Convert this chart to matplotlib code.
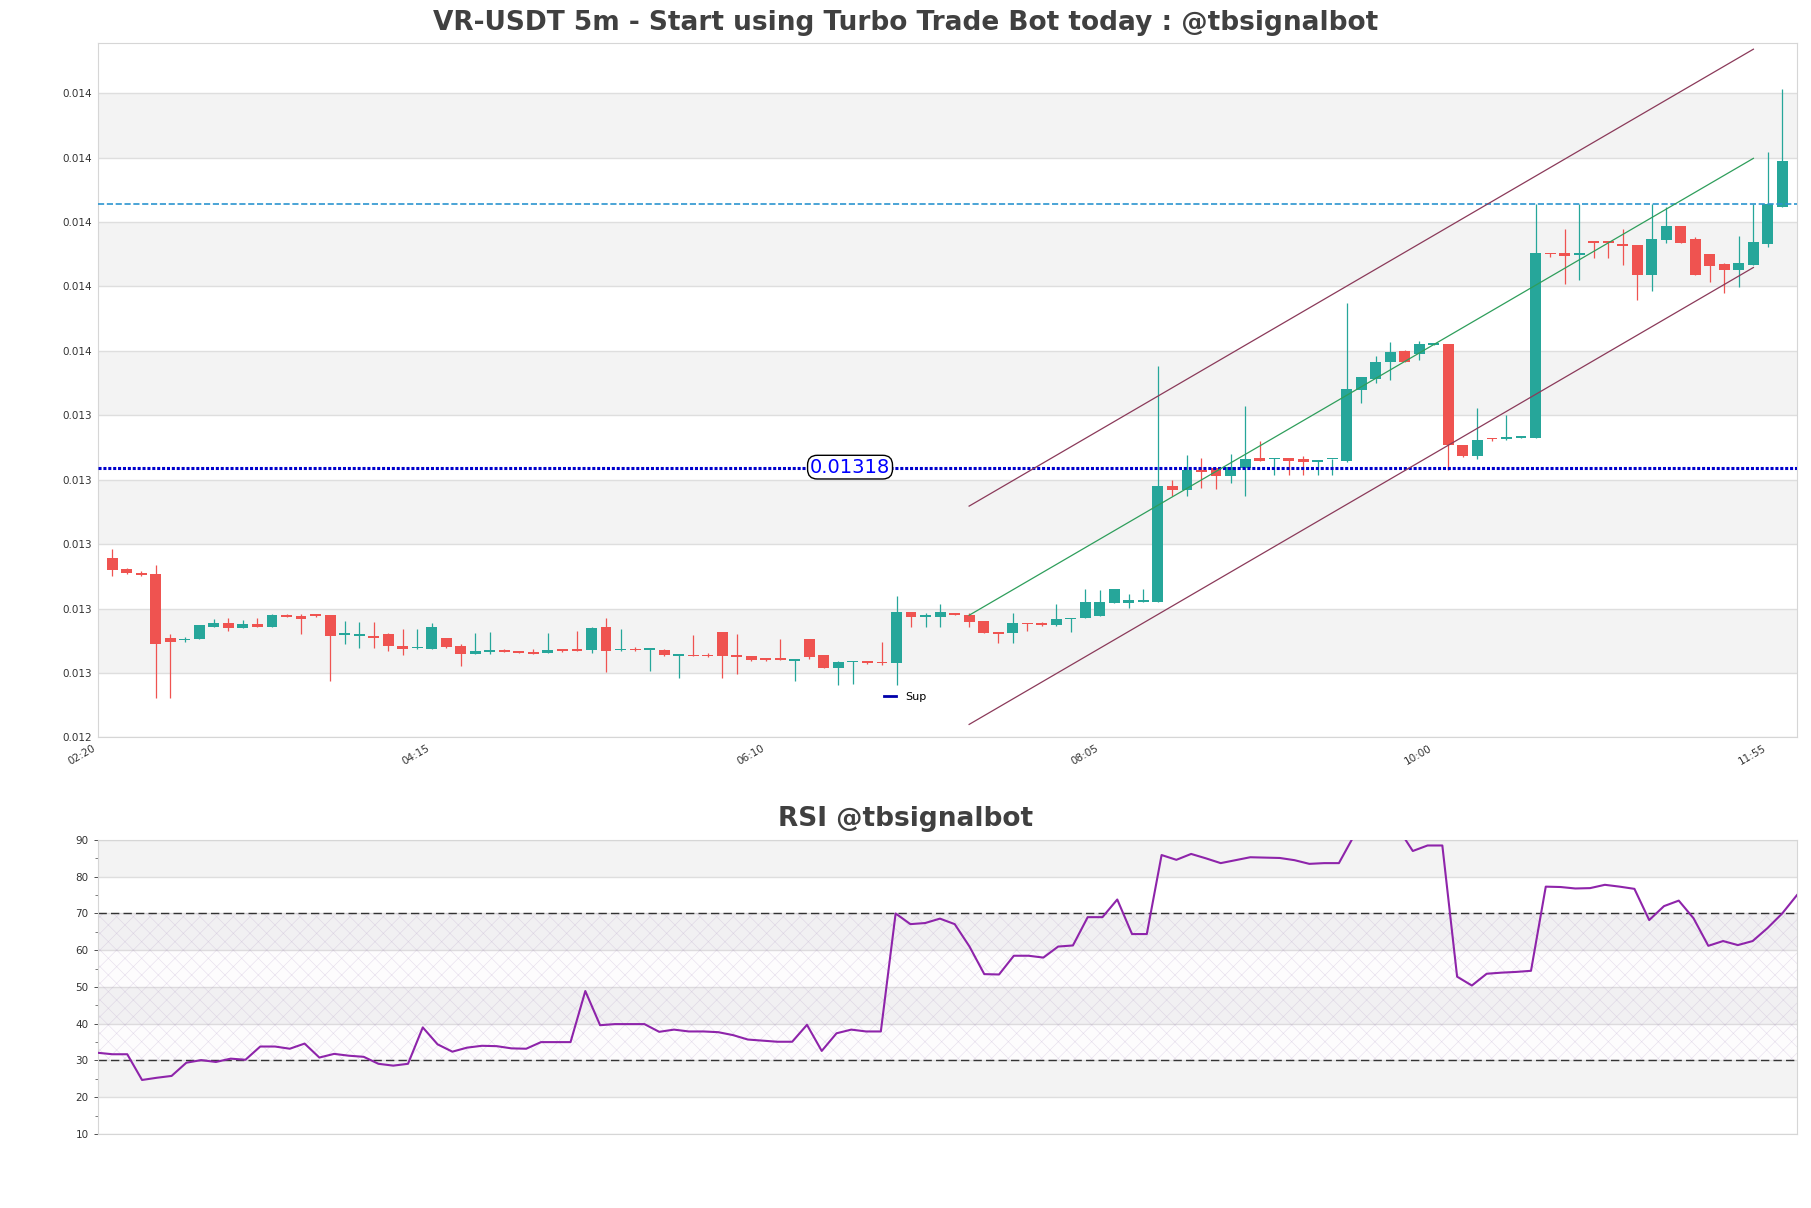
import matplotlib
matplotlib.use('Agg')
import matplotlib.pyplot as plt
from matplotlib.lines import Line2D
from matplotlib.ticker import FixedLocator, MultipleLocator
import numpy as np

# Chart texts
title = 'VR-USDT 5m - Start using Turbo Trade Bot today : @tbsignalbot'
rsi_title = 'RSI @tbsignalbot'

# Time axis: first candle at 02:25, 5 minute candles
first_candle = '02:25'
tick_labels = ['02:20', '04:15', '06:10', '08:05', '10:00', '11:55']

# OHLC data
opens = [
    0.012902, 0.012868, 0.012856, 0.012852, 0.012653, 0.012647, 0.012651, 0.012689, 0.012699, 0.012685,
    0.012696, 0.012689, 0.012725, 0.012722, 0.012727, 0.012725, 0.012662, 0.012659, 0.012660, 0.012666,
    0.012629, 0.012622, 0.012620, 0.012653, 0.012629, 0.012605, 0.012611, 0.012616, 0.012613, 0.012610,
    0.012608, 0.012619, 0.012619, 0.012616, 0.012688, 0.012616, 0.012620, 0.012617, 0.012616, 0.012599,
    0.012601, 0.012601, 0.012672, 0.012600, 0.012596, 0.012591, 0.012589, 0.012583, 0.012650, 0.012601,
    0.012561, 0.012578, 0.012582, 0.012579, 0.012577, 0.012733, 0.012720, 0.012720, 0.012730, 0.012724,
    0.012706, 0.012671, 0.012670, 0.012701, 0.012700, 0.012694, 0.012711, 0.012717, 0.012722, 0.012763,
    0.012763, 0.012766, 0.012766, 0.013124, 0.013113, 0.013176, 0.013180, 0.013157, 0.013182, 0.013211,
    0.013208, 0.013211, 0.013209, 0.013201, 0.013208, 0.013203, 0.013424, 0.013458, 0.013509, 0.013546,
    0.013535, 0.013564, 0.013566, 0.013253, 0.013219, 0.013276, 0.013271, 0.013276, 0.013276, 0.013850,
    0.013850, 0.013842, 0.013885, 0.013885, 0.013877, 0.013873, 0.013781, 0.013889, 0.013933, 0.013891,
    0.013846, 0.013815, 0.013796, 0.013813, 0.013877, 0.013993,
]
highs = [
    0.012930, 0.012871, 0.012860, 0.012880, 0.012666, 0.012655, 0.012694, 0.012712, 0.012716, 0.012709,
    0.012716, 0.012727, 0.012728, 0.012727, 0.012729, 0.012725, 0.012706, 0.012703, 0.012703, 0.012669,
    0.012681, 0.012681, 0.012699, 0.012653, 0.012636, 0.012669, 0.012672, 0.012618, 0.012614, 0.012619,
    0.012669, 0.012620, 0.012675, 0.012689, 0.012714, 0.012681, 0.012624, 0.012619, 0.012618, 0.012604,
    0.012664, 0.012606, 0.012672, 0.012666, 0.012596, 0.012591, 0.012650, 0.012588, 0.012650, 0.012601,
    0.012582, 0.012582, 0.012582, 0.012641, 0.012784, 0.012733, 0.012730, 0.012758, 0.012731, 0.012730,
    0.012706, 0.012671, 0.012730, 0.012701, 0.012702, 0.012758, 0.012717, 0.012807, 0.012803, 0.012806,
    0.012789, 0.012807, 0.013499, 0.013144, 0.013222, 0.013212, 0.013180, 0.013225, 0.013374, 0.013265,
    0.013213, 0.013211, 0.013219, 0.013206, 0.013210, 0.013693, 0.013464, 0.013529, 0.013573, 0.013548,
    0.013575, 0.013566, 0.013566, 0.013253, 0.013368, 0.013276, 0.013346, 0.013281, 0.014000, 0.013850,
    0.013924, 0.014000, 0.013885, 0.013885, 0.013923, 0.013873, 0.014000, 0.013993, 0.013933, 0.013900,
    0.013846, 0.013817, 0.013903, 0.014000, 0.014164, 0.014358,
]
lows = [
    0.012847, 0.012853, 0.012847, 0.012468, 0.012468, 0.012642, 0.012649, 0.012689, 0.012676, 0.012685,
    0.012689, 0.012689, 0.012720, 0.012667, 0.012718, 0.012521, 0.012636, 0.012621, 0.012623, 0.012614,
    0.012602, 0.012620, 0.012618, 0.012623, 0.012567, 0.012604, 0.012605, 0.012609, 0.012606, 0.012605,
    0.012608, 0.012610, 0.012614, 0.012608, 0.012549, 0.012614, 0.012612, 0.012551, 0.012599, 0.012530,
    0.012597, 0.012595, 0.012530, 0.012543, 0.012583, 0.012583, 0.012585, 0.012521, 0.012588, 0.012561,
    0.012508, 0.012512, 0.012573, 0.012571, 0.012508, 0.012689, 0.012689, 0.012689, 0.012724, 0.012689,
    0.012668, 0.012639, 0.012639, 0.012676, 0.012692, 0.012692, 0.012673, 0.012715, 0.012722, 0.012763,
    0.012746, 0.012764, 0.012766, 0.013095, 0.013095, 0.013120, 0.013116, 0.013136, 0.013095, 0.013204,
    0.013160, 0.013160, 0.013160, 0.013160, 0.013160, 0.013201, 0.013384, 0.013444, 0.013455, 0.013509,
    0.013517, 0.013564, 0.013175, 0.013215, 0.013208, 0.013265, 0.013268, 0.013276, 0.013274, 0.013838,
    0.013753, 0.013765, 0.013834, 0.013834, 0.013813, 0.013703, 0.013732, 0.013881, 0.013881, 0.013781,
    0.013760, 0.013724, 0.013744, 0.013813, 0.013869, 0.013993,
]
closes = [
    0.012866, 0.012855, 0.012850, 0.012636, 0.012642, 0.012651, 0.012693, 0.012700, 0.012685, 0.012696,
    0.012689, 0.012725, 0.012720, 0.012713, 0.012723, 0.012661, 0.012669, 0.012666, 0.012654, 0.012630,
    0.012620, 0.012625, 0.012688, 0.012626, 0.012605, 0.012613, 0.012616, 0.012611, 0.012608, 0.012605,
    0.012616, 0.012614, 0.012614, 0.012684, 0.012614, 0.012620, 0.012616, 0.012619, 0.012602, 0.012604,
    0.012597, 0.012597, 0.012597, 0.012594, 0.012585, 0.012586, 0.012586, 0.012588, 0.012594, 0.012561,
    0.012578, 0.012582, 0.012576, 0.012576, 0.012734, 0.012720, 0.012725, 0.012733, 0.012725, 0.012704,
    0.012670, 0.012666, 0.012699, 0.012697, 0.012694, 0.012711, 0.012717, 0.012765, 0.012765, 0.012806,
    0.012772, 0.012772, 0.013126, 0.013113, 0.013175, 0.013168, 0.013158, 0.013185, 0.013209, 0.013204,
    0.013213, 0.013204, 0.013201, 0.013206, 0.013210, 0.013427, 0.013464, 0.013511, 0.013542, 0.013509,
    0.013566, 0.013566, 0.013253, 0.013219, 0.013268, 0.013272, 0.013278, 0.013281, 0.013850, 0.013846,
    0.013840, 0.013848, 0.013881, 0.013879, 0.013872, 0.013781, 0.013891, 0.013933, 0.013881, 0.013781,
    0.013808, 0.013796, 0.013817, 0.013882, 0.014000, 0.014135,
]

# RSI values (one per candle)
rsi = [
    32.1, 31.7, 31.7, 24.7, 25.3, 25.8, 29.4, 30.1, 29.6, 30.5,
    30.2, 33.8, 33.8, 33.2, 34.6, 30.8, 31.8, 31.3, 31.0, 29.1,
    28.6, 29.1, 39.0, 34.4, 32.4, 33.5, 34.0, 33.9, 33.3, 33.2,
    35.0, 35.0, 35.0, 48.9, 39.6, 39.9, 39.9, 39.9, 37.8, 38.4,
    37.9, 37.9, 37.7, 36.9, 35.7, 35.4, 35.1, 35.1, 39.7, 32.6,
    37.4, 38.4, 37.9, 37.9, 70.0, 67.1, 67.4, 68.6, 67.1, 61.0,
    53.5, 53.4, 58.5, 58.5, 58.0, 61.0, 61.3, 69.0, 69.0, 73.8,
    64.4, 64.4, 85.9, 84.6, 86.2, 85.0, 83.7, 84.5, 85.3, 85.2,
    85.1, 84.5, 83.5, 83.7, 83.7, 91.0, 93.5, 94.5, 93.2, 87.0,
    88.5, 88.5, 52.8, 50.4, 53.6, 53.9, 54.1, 54.4, 77.3, 77.2,
    76.8, 76.9, 77.8, 77.3, 76.7, 68.2, 72.0, 73.5, 68.7, 61.2,
    62.5, 61.4, 62.5, 66.0, 70.0, 75.0,
]

# Levels and trend channel
support = 0.01318
resistance = 0.0140
channel_x = [59, 113]
channel_mid = [0.012724, 0.014143]
channel_half_width = 0.000339

# Price axis ticks
y_tick_start = 0.012345
y_tick_step = 0.0002
y_top = 0.014501

opens = np.array(opens)
highs = np.array(highs)
lows = np.array(lows)
closes = np.array(closes)
x = np.arange(len(opens))


def minutes(label):
    h, m = label.split(':')
    return int(h) * 60 + int(m)


tick_pos = [(minutes(t) - minutes(first_candle)) / 5 for t in tick_labels]

green = '#26a69a'
red = '#ef5350'
band = '#f3f3f3'
grid_c = '#dedede'
spine_c = '#d6d6d6'
text_c = '#333333'

fig = plt.figure(figsize=(18.11, 12.08), dpi=100)
ax = fig.add_axes([0.05395, 0.38965, 0.9383, 0.5747])
ax2 = fig.add_axes([0.05395, 0.06126, 0.9383, 0.2434])

# ---- price panel ----
yticks = [y_tick_start + k * y_tick_step for k in range(11)]
for k in range(1, 10, 2):
    ax.axhspan(yticks[k], yticks[k + 1], color=band, zorder=0, lw=0)
for yt in yticks:
    ax.axhline(yt, color=grid_c, lw=1, zorder=0.5)

up = closes >= opens
colors = np.where(up, green, red)
ax.vlines(x, lows, highs, colors=colors, lw=0.9, zorder=2)
body_low = np.minimum(opens, closes)
body_h = np.maximum(np.abs(closes - opens), 0.000004)
ax.bar(x, body_h, bottom=body_low, width=0.75, color=colors, lw=0, zorder=3)

ax.axhline(resistance, color='#2b95cf', ls='--', lw=1.2, zorder=4)
ax.axhline(support, color='#0000cc', ls=(0, (1, 0.6)), lw=2.2, zorder=4)

mid = np.array(channel_mid)
ax.plot(channel_x, mid, color='#2e9e5b', lw=0.9, zorder=4)
ax.plot(channel_x, mid + channel_half_width, color='#8b3a5a', lw=0.9, zorder=4)
ax.plot(channel_x, mid - channel_half_width, color='#8b3a5a', lw=0.9, zorder=4)

ax.text(50.8, support + 0.000004, '%.5f' % support, ha='center', va='center', color='blue',
        fontsize=14, zorder=6,
        bbox=dict(boxstyle='round,pad=0.12,rounding_size=0.5', fc='white', ec='black', lw=1))

sup_handle = Line2D([0], [0], color='#0000aa', lw=2)
ax.legend([sup_handle], ['Sup'], loc='center', bbox_to_anchor=(0.475, 0.058),
          frameon=False, fontsize=8, handlelength=1.1, handletextpad=0.8)

ax.set_xlim(-1, 116)
ax.set_ylim(y_tick_start, y_top)
ax.yaxis.set_major_locator(FixedLocator(yticks))
ax.set_yticklabels(['%.3f' % v for v in yticks])
ax.set_xticks(tick_pos)
ax.set_xticklabels(tick_labels, rotation=30, ha='right')
ax.tick_params(axis='both', labelsize=7.5, colors=text_c, length=0, pad=4)
for s in ax.spines.values():
    s.set_color(spine_c)

fig.text(0.5, 0.981, title, ha='center', va='center', fontsize=19,
         fontweight='bold', color='#404040')

# ---- RSI panel ----
for lo in (20, 40, 60, 80):
    ax2.axhspan(lo, lo + 10, color=band, zorder=0, lw=0)
for yt in range(10, 91, 10):
    ax2.axhline(yt, color=grid_c, lw=1, zorder=0.5)

plt.rcParams['hatch.linewidth'] = 0.4
ax2.fill_between([0, len(rsi) - 1], 30, 70, facecolor=(0.55, 0.2, 0.65, 0.01),
                 edgecolor=(0.62, 0.5, 0.72, 0.25), hatch='xx', lw=0, zorder=1)
ax2.axhline(30, color='#333333', ls=(0, (6, 3)), lw=1, zorder=2)
ax2.axhline(70, color='#333333', ls=(0, (6, 3)), lw=1, zorder=2)
ax2.plot(np.arange(len(rsi)), rsi, color='#8e24aa', lw=1.5, zorder=3)

ax2.set_xlim(0, len(rsi) - 1)
ax2.set_ylim(10, 90)
ax2.yaxis.set_major_locator(MultipleLocator(10))
ax2.yaxis.set_minor_locator(MultipleLocator(5))
ax2.set_xticks([])
ax2.tick_params(axis='y', labelsize=7.5, colors=text_c, length=3, width=0.6)
ax2.tick_params(axis='y', which='minor', length=2, width=0.6, colors='#666666')
for s in ax2.spines.values():
    s.set_color(spine_c)

fig.text(0.5, 0.322, rsi_title, ha='center', va='center', fontsize=19,
         fontweight='bold', color='#404040')

fig.savefig('out.png', dpi=100)
